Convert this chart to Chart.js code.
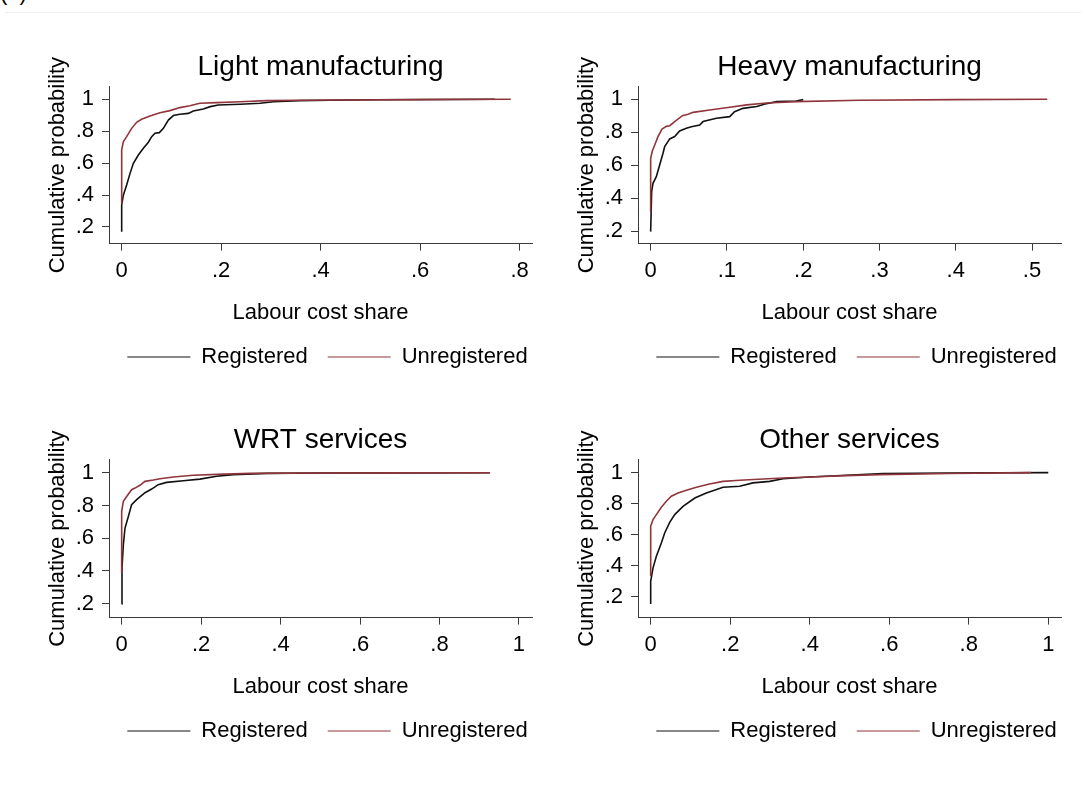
<!DOCTYPE html>
<html lang="en">
<head>
<meta charset="UTF-8">
<title>Labour cost share by registration status</title>
<script src="https://cdn.jsdelivr.net/npm/chart.js"></script>
<style>
    body {
        margin: 0;
        width: 1084px;
        height: 785px;
        position: relative;
        overflow: hidden;
        background: #fff;
        font-family: "Liberation Sans", Arial, sans-serif;
    }
    .tag {
        position: absolute;
        left: 0;
        top: -18px;
        font-size: 22px;
        line-height: 22px;
        color: #000;
    }
    .rule {
        position: absolute;
        left: 5px;
        right: 3px;
        top: 12px;
        border-top: 1px solid #f0f0f0;
    }
    .panel {
        position: absolute;
        width: 505px;
    }
</style>
</head>
<body>
<div class="tag">(a)</div>
<div class="rule"></div>
<div class="panel" style="left:40px;top:30px;height:348px"><canvas id="light"></canvas></div>
<div class="panel" style="left:569px;top:30px;height:348px"><canvas id="heavy"></canvas></div>
<div class="panel" style="left:40px;top:403px;height:349px"><canvas id="wrt"></canvas></div>
<div class="panel" style="left:569px;top:403px;height:349px"><canvas id="other"></canvas></div>
<script>
    // empirical CDFs of the labour cost share, registered vs unregistered firms
    const lightRegX = [0, 0, 0.0034, 0.010, 0.0168, 0.0235, 0.0335, 0.0436, 0.0536, 0.0603, 0.067, 0.0757, 0.0838, 0.0938, 0.1039, 0.117, 0.134, 0.144, 0.164, 0.178, 0.194, 0.238, 0.278, 0.305, 0.358, 0.419, 0.5, 0.62, 0.75];
    const lightRegY = [0.171, 0.338, 0.40, 0.463, 0.536, 0.599, 0.651, 0.693, 0.731, 0.766, 0.787, 0.791, 0.818, 0.870, 0.898, 0.906, 0.912, 0.927, 0.939, 0.954, 0.964, 0.969, 0.975, 0.985, 0.992, 0.994, 0.997, 0.999, 1.0];
    const lightUnregX = [0, 0, 0.0034, 0.010, 0.020, 0.030, 0.040, 0.057, 0.077, 0.097, 0.117, 0.137, 0.157, 0.191, 0.238, 0.291, 0.358, 0.45, 0.6, 0.782];
    const lightUnregY = [0.348, 0.683, 0.735, 0.766, 0.818, 0.856, 0.875, 0.896, 0.916, 0.929, 0.948, 0.960, 0.975, 0.979, 0.985, 0.992, 0.994, 0.996, 0.998, 1.0];

    const heavyRegX = [0, 0.0013, 0.003, 0.0074, 0.0118, 0.0162, 0.0184, 0.025, 0.0315, 0.038, 0.0468, 0.0534, 0.0643, 0.0687, 0.0862, 0.1037, 0.110, 0.121, 0.139, 0.150, 0.165, 0.191, 0.200];
    const heavyRegY = [0.198, 0.44, 0.491, 0.531, 0.602, 0.673, 0.713, 0.760, 0.774, 0.808, 0.824, 0.834, 0.844, 0.865, 0.885, 0.895, 0.925, 0.945, 0.956, 0.972, 0.986, 0.990, 0.998];
    const heavyUnregX = [0, 0, 0.0022, 0.0053, 0.0096, 0.0149, 0.0206, 0.025, 0.0315, 0.0416, 0.049, 0.0556, 0.0775, 0.1037, 0.126, 0.152, 0.191, 0.274, 0.4, 0.52];
    const heavyUnregY = [0.319, 0.642, 0.687, 0.723, 0.774, 0.820, 0.836, 0.840, 0.865, 0.901, 0.909, 0.921, 0.935, 0.952, 0.966, 0.978, 0.986, 0.994, 0.998, 1.0];

    const wrtRegX = [0, 0.0008, 0.0042, 0.0084, 0.0168, 0.025, 0.0377, 0.0587, 0.0755, 0.092, 0.113, 0.155, 0.197, 0.239, 0.281, 0.365, 0.5, 0.7, 0.927];
    const wrtRegY = [0.198, 0.418, 0.560, 0.662, 0.733, 0.805, 0.835, 0.878, 0.900, 0.927, 0.941, 0.951, 0.961, 0.978, 0.988, 0.996, 0.998, 0.999, 1.0];
    const wrtUnregX = [0, 0, 0.0042, 0.0126, 0.025, 0.0335, 0.046, 0.0587, 0.0797, 0.0964, 0.130, 0.180, 0.239, 0.323, 0.5, 0.7, 0.927];
    const wrtUnregY = [0.387, 0.764, 0.825, 0.855, 0.896, 0.906, 0.923, 0.947, 0.955, 0.963, 0.974, 0.984, 0.990, 0.996, 0.998, 0.999, 1.0];

    const otherRegX = [0, 0, 0.0059, 0.0143, 0.0268, 0.0352, 0.0478, 0.0604, 0.0813, 0.111, 0.140, 0.182, 0.224, 0.257, 0.299, 0.333, 0.400, 0.492, 0.584, 0.75, 1.0];
    const otherRegY = [0.155, 0.301, 0.387, 0.462, 0.547, 0.612, 0.680, 0.730, 0.783, 0.837, 0.869, 0.906, 0.912, 0.934, 0.944, 0.961, 0.972, 0.983, 0.994, 0.998, 1.0];
    const otherUnregX = [0, 0, 0.0059, 0.0143, 0.0268, 0.0394, 0.052, 0.0688, 0.0897, 0.115, 0.148, 0.182, 0.224, 0.283, 0.333, 0.400, 0.492, 0.576, 0.75, 0.957];
    const otherUnregY = [0.333, 0.655, 0.698, 0.730, 0.777, 0.816, 0.848, 0.869, 0.886, 0.906, 0.927, 0.944, 0.951, 0.959, 0.966, 0.972, 0.981, 0.987, 0.995, 1.0];

    const probTicks = [0.2, 0.4, 0.6, 0.8, 1];
    const shareTicks = [0, 0.2, 0.4, 0.6, 0.8];
    const heavyShareTicks = [0, 0.1, 0.2, 0.3, 0.4, 0.5];
    const fullShareTicks = [0, 0.2, 0.4, 0.6, 0.8, 1];

    const BLACK = '#111111';
    const RED = '#90353b';
    const AXIS = '#3a3a3a';

    Chart.defaults.font.family = '"Liberation Sans", Arial, sans-serif';
    Chart.defaults.color = '#000';

    const panels = [
        { id: 'light', title: 'Light manufacturing', regX: lightRegX, regY: lightRegY, unX: lightUnregX, unY: lightUnregY,
          xTicks: shareTicks, xMin: -0.0255, xMax: 0.8248, yMin: 0.096, yMax: 1.0796 },
        { id: 'heavy', title: 'Heavy manufacturing', regX: heavyRegX, regY: heavyRegY, unX: heavyUnregX, unY: heavyUnregY,
          xTicks: heavyShareTicks, xMin: -0.0166, xMax: 0.538, yMin: 0.1255, yMax: 1.077 },
        { id: 'wrt', title: 'WRT services', regX: wrtRegX, regY: wrtRegY, unX: wrtUnregX, unY: wrtUnregY,
          xTicks: fullShareTicks, xMin: -0.0319, xMax: 1.0328, yMin: 0.115, yMax: 1.080 },
        { id: 'other', title: 'Other services', regX: otherRegX, regY: otherRegY, unX: otherUnregX, unY: otherUnregY,
          xTicks: fullShareTicks, xMin: -0.0319, xMax: 1.032, yMin: 0.067, yMax: 1.084 }
    ];

    // the legend is laid out full width (so it stays on one row), then
    // given a box a bit wider than the plot and centred slightly to its right
    const legendShift = {
        id: 'legendShift',
        afterLayout(chart) {
            const lg = chart.legend;
            const a = chart.chartArea;
            lg.left = a.left - 10;
            lg.right = a.right + 24;
            lg.width = lg.right - lg.left;
        }
    };

    function toPoints(xs, ys) {
        return xs.map((x, i) => ({ x: x, y: ys[i] }));
    }

    // stata style labels: .2 instead of 0.2
    function fmt(v) {
        if (v === 0) return '0';
        return String(+v.toFixed(2)).replace(/^0\./, '.');
    }

    function drawPanel(p) {
        const ctx = document.getElementById(p.id).getContext('2d');
        new Chart(ctx, {
            type: 'line',
            data: {
                datasets: [
                    { label: 'Registered', data: toPoints(p.regX, p.regY), borderColor: BLACK, backgroundColor: BLACK, order: 1 },
                    { label: 'Unregistered', data: toPoints(p.unX, p.unY), borderColor: RED, backgroundColor: RED, order: 0 }
                ]
            },
            plugins: [legendShift],
            options: {
                responsive: true,
                maintainAspectRatio: false,
                animation: false,
                events: [],
                layout: { padding: { left: 0, right: 13, top: 0, bottom: 0 } },
                elements: {
                    point: { radius: 0 },
                    line: { borderWidth: 1.6, tension: 0, fill: false }
                },
                plugins: {
                    title: {
                        display: true,
                        text: p.title,
                        fullSize: false,
                        color: '#000',
                        font: { size: 28, weight: 'normal' },
                        padding: { top: 20, bottom: 3 }
                    },
                    legend: {
                        position: 'bottom',
                        fullSize: true,
                        labels: {
                            usePointStyle: true,
                            pointStyle: 'line',
                            pointStyleWidth: 63,
                            padding: 20,
                            color: '#000',
                            font: { size: 22 },
                            sort: (a, b) => a.datasetIndex - b.datasetIndex
                        }
                    },
                    tooltip: { enabled: false }
                },
                scales: {
                    x: {
                        type: 'linear',
                        min: p.xMin,
                        max: p.xMax,
                        afterBuildTicks: s => { s.ticks = p.xTicks.map(v => ({ value: v })); },
                        afterFit: s => { s.height = 82.4; },
                        grid: { drawOnChartArea: false, drawTicks: true, tickLength: 7, color: AXIS },
                        border: { display: true, color: AXIS, width: 1 },
                        ticks: { padding: 7, maxRotation: 0, autoSkip: false, color: '#000', font: { size: 22 }, callback: fmt },
                        title: { display: true, text: 'Labour cost share', color: '#000', font: { size: 22 }, padding: { top: 0, bottom: 0 } }
                    },
                    y: {
                        type: 'linear',
                        min: p.yMin,
                        max: p.yMax,
                        afterBuildTicks: s => { s.ticks = probTicks.map(v => ({ value: v })); },
                        afterFit: s => { s.width = 69; },
                        grid: { drawOnChartArea: false, drawTicks: true, tickLength: 7, color: AXIS },
                        border: { display: true, color: AXIS, width: 1 },
                        ticks: { padding: 8, autoSkip: false, color: '#000', font: { size: 22 }, callback: fmt },
                        title: { display: true, text: 'Cumulative probability', color: '#000', font: { size: 22 }, padding: { top: 5, bottom: 0 } }
                    }
                }
            }
        });
    }

    panels.forEach(drawPanel);
</script>
</body>
</html>
